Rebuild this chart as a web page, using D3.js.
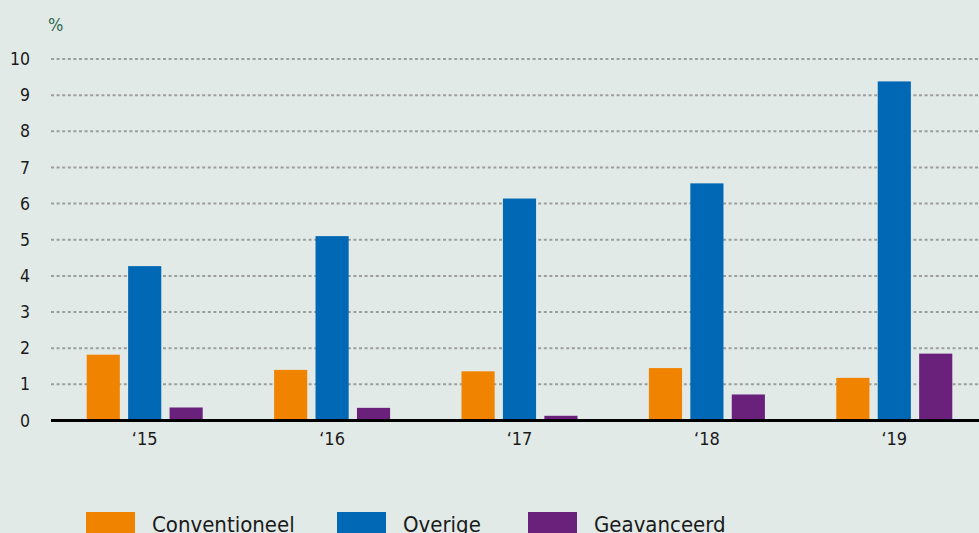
<!DOCTYPE html>
<html>
<head>
<meta charset="utf-8">
<script src="https://cdn.jsdelivr.net/npm/d3@7"></script>
<style>
  html, body { margin: 0; padding: 0; background: #e2eae7; }
  svg { display: block; font-family: "DejaVu Sans Condensed", "DejaVu Sans", sans-serif; }
</style>
</head>
<body>
<svg id="chart" width="979" height="533"></svg>
<script>
// Years (category labels) and the three series, in percent
const years = ["\u201815", "\u201816", "\u201817", "\u201818", "\u201819"];
const seriesNames = ["Conventioneel", "Overige", "Geavanceerd"];
const conventioneel = [1.82, 1.40, 1.36, 1.45, 1.18];
const overige = [4.27, 5.10, 6.14, 6.56, 9.38];
const geavanceerd = [0.36, 0.35, 0.13, 0.72, 1.85];
const yTicks = [0, 1, 2, 3, 4, 5, 6, 7, 8, 9, 10];
const colors = ["#f08300", "#0068b4", "#69217c"];

const values = [conventioneel, overige, geavanceerd];
const rows = years.map((y, i) => ({
  year: y,
  vals: seriesNames.map((s, k) => ({ key: s, value: values[k][i] }))
}));

const svg = d3.select("#chart");
const left = 51, right = 979;

const y = d3.scaleLinear().domain([0, 10]).range([420.5, 59]);
const x0 = d3.scaleBand().domain(years).range([51, 988]).paddingInner(0).paddingOuter(0);
const groupW = 116;
const x1 = d3.scaleBand().domain(seriesNames).range([0, groupW]).paddingInner(0.2).paddingOuter(0);
const color = d3.scaleOrdinal().domain(seriesNames).range(colors);

// Dotted gridlines
svg.append("g")
  .selectAll("line")
  .data(yTicks.filter(d => d > 0))
  .join("line")
  .attr("x1", left).attr("x2", right)
  .attr("y1", d => y(d)).attr("y2", d => y(d))
  .attr("stroke", "#9c9e9d")
  .attr("stroke-width", 2)
  .attr("stroke-dasharray", "3,2.6");

// Y axis labels
const yAxis = d3.axisLeft(y).tickValues(yTicks).tickSize(0).tickPadding(0).tickFormat(d3.format("d"));
const gy = svg.append("g").attr("transform", "translate(30,0)").call(yAxis);
gy.select(".domain").remove();
gy.selectAll("text")
  .attr("font-size", "17.5px")
  .attr("fill", "#1a1a1a")
  .attr("font-family", "DejaVu Sans Condensed, DejaVu Sans, sans-serif");

// Unit label
svg.append("text")
  .attr("x", 48).attr("y", 31)
  .attr("font-size", "18px")
  .attr("fill", "#2f6a4f")
  .text("%");

// Bars
const groups = svg.append("g")
  .selectAll("g")
  .data(rows)
  .join("g")
  .attr("transform", d => `translate(${x0(d.year) + (x0.bandwidth() - groupW) / 2},0)`);

groups.selectAll("rect")
  .data(d => d.vals)
  .join("rect")
  .attr("x", d => x1(d.key))
  .attr("width", x1.bandwidth())
  .attr("y", d => y(d.value))
  .attr("height", d => y(0) - y(d.value))
  .attr("fill", d => color(d.key));

// Baseline
svg.append("line")
  .attr("x1", left).attr("x2", right)
  .attr("y1", y(0)).attr("y2", y(0))
  .attr("stroke", "#000")
  .attr("stroke-width", 3);

// X axis labels
const xAxis = d3.axisBottom(x0).tickSize(0).tickPadding(0);
const gx = svg.append("g").attr("transform", `translate(0,${y(0) + 24})`).call(xAxis);
gx.select(".domain").remove();
gx.selectAll("text")
  .attr("dy", 0)
  .attr("font-size", "18px")
  .attr("fill", "#1a1a1a")
  .attr("font-family", "DejaVu Sans Condensed, DejaVu Sans, sans-serif");

// Legend
const legendX = [86, 337, 528];
const legend = svg.append("g")
  .selectAll("g")
  .data(seriesNames)
  .join("g")
  .attr("transform", (d, i) => `translate(${legendX[i]},512)`);
legend.append("rect")
  .attr("width", 49).attr("height", 24)
  .attr("fill", d => color(d));
legend.append("text")
  .attr("x", 66).attr("y", 20)
  .attr("font-size", "22px")
  .attr("fill", "#1a1a1a")
  .text(d => d);
</script>
</body>
</html>
